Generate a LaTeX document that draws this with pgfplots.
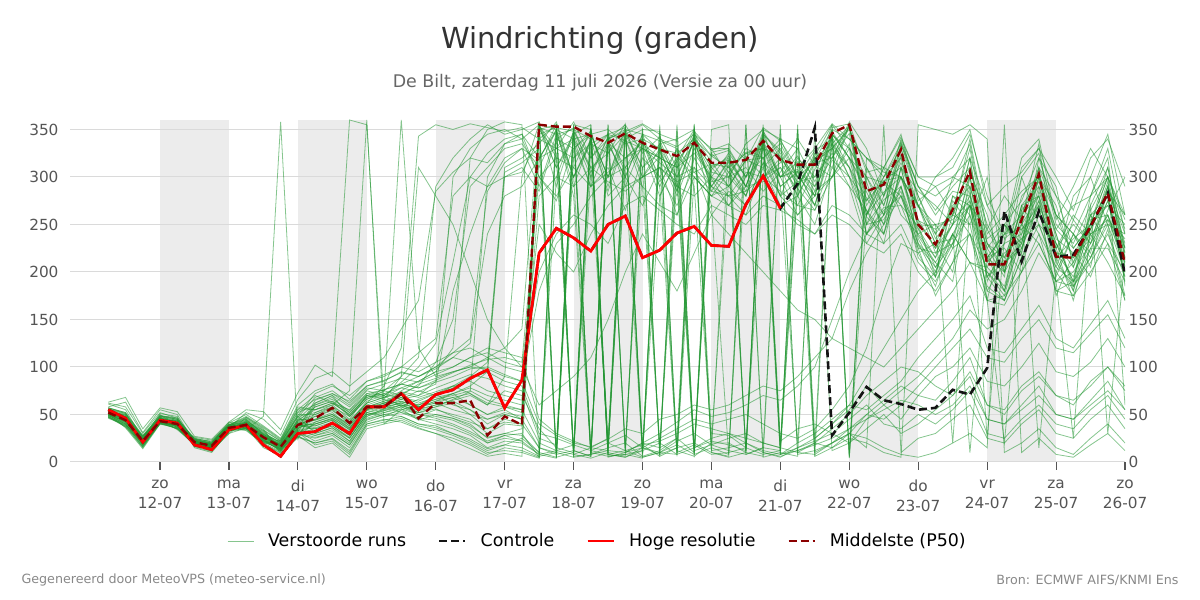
\documentclass[border=0pt]{standalone}
\usepackage{fontspec}
\setmainfont{DejaVu Sans}
\usepackage{pgfplots}
\usepackage{pgfplotstable}
\pgfplotsset{compat=1.18}

\definecolor{ensgreen}{RGB}{34,150,50}
\definecolor{p50red}{RGB}{139,0,0}
\definecolor{ctrlblack}{RGB}{20,20,20}
\definecolor{bandcol}{RGB}{236,236,236}
\definecolor{gridcol}{RGB}{218,218,218}
\definecolor{tickcol}{RGB}{85,85,85}
\definecolor{titlecol}{RGB}{51,51,51}
\definecolor{subcol}{RGB}{102,102,102}
\definecolor{footcol}{RGB}{136,136,136}

% Ensemble members: one row per member, time steps (6-hourly) as columns.
% Row "d" holds the time in days after 11-07 00:00.
\pgfplotstableread{
id  t01 t02 t03 t04 t05 t06 t07 t08 t09 t10 t11 t12 t13 t14 t15 t16 t17 t18 t19 t20 t21 t22 t23 t24 t25 t26 t27 t28 t29 t30 t31 t32 t33 t34 t35 t36 t37 t38 t39 t40 t41 t42 t43 t44 t45 t46 t47 t48 t49 t50 t51 t52 t53 t54 t55 t56 t57 t58 t59 t60
d   0.25 0.5 0.75 1 1.25 1.5 1.75 2 2.25 2.5 2.75 3 3.25 3.5 3.75 4 4.25 4.5 4.75 5 5.25 5.5 5.75 6 6.25 6.5 6.75 7 7.25 7.5 7.75 8 8.25 8.5 8.75 9 9.25 9.5 9.75 10 10.25 10.5 10.75 11 11.25 11.5 11.75 12 12.25 12.5 12.75 13 13.25 13.5 13.75 14 14.25 14.5 14.75 15
m1  54 46 20 45 42 19 15 35 40 24 14 35 45 52 38 60 58 66 70 85 300 330 345 350 340 355 320 8 345 300 352 15 330 285 340 310 320 290 345 325 280 318 350 10 300 260 335 280 240 300 290 225 250 220 320 290 205 250 300 260
m2  50 42 25 47 38 23 19 38 36 28 18 42 38 44 30 55 62 70 58 64 72 80 95 310 320 335 358 300 12 340 290 335 320 6 300 280 290 322 300 315 340 312 300 355 250 295 280 245 205 230 305 260 200 270 280 195 240 215 265 300
m3  57 52 18 41 44 17 13 33 44 30 12 31 62 70 48 66 75 90 110 290 320 340 355 345 350 358 10 330 348 290 345 310 18 315 342 270 8 325 330 280 320 300 355 330 295 240 310 285 270 250 320 190 230 300 250 230 190 280 320 185
m4  48 38 27 50 36 25 21 40 35 22 20 48 30 36 25 50 55 60 52 58 66 74 300 335 345 320 348 290 340 20 310 330 280 318 8 312 318 12 300 310 270 308 340 300 275 310 260 240 215 280 260 180 210 230 310 260 240 205 290 230
m5  62 58 30 52 46 16 11 31 47 35 9 28 52 60 45 70 68 78 85 95 120 320 350 358 355 5 300 348 320 345 12 338 300 328 290 20 300 335 350 290 20 325 320 358 330 280 340 300 290 260 340 245 280 255 335 210 280 300 250 240
m6  47 40 16 42 35 22 18 37 33 19 23 55 70 62 55 75 70 58 66 72 60 55 40 50 45 355 310 340 290 335 300 345 295 320 350 285 312 280 338 300 316 285 348 5 260 310 300 250 195 275 250 300 200 270 240 205 255 230 275 195
m7  55 48 23 44 41 20 16 36 41 27 17 38 48 55 40 62 80 120 343 355 350 356 352 348 352 340 355 300 335 325 356 10 280 318 338 305 300 310 285 305 330 295 335 300 240 280 315 270 230 200 300 170 250 225 290 240 180 260 230 200
m8  51 36 14 40 39 24 22 41 50 38 25 60 75 82 66 85 92 100 115 130 280 300 325 340 345 300 280 310 350 280 300 270 310 260 320 290 280 260 310 270 280 250 310 290 230 260 285 220 185 240 210 200 180 235 270 175 220 195 245 170
m9  53 45 21 46 43 18 14 34 38 25 15 36 35 40 28 52 48 56 44 50 46 40 25 30 35 350 325 12 305 342 310 340 290 8 336 300 325 300 342 18 290 320 330 350 310 270 334 290 260 285 280 225 195 300 325 250 230 270 310 225
m10 58 63 31 55 50 21 12 30 36 15 7 26 42 48 35 58 64 72 80 105 150 290 310 330 335 310 350 280 8 335 300 345 328 285 342 316 290 318 320 340 300 6 346 320 284 250 300 270 220 250 320 215 240 245 270 225 260 240 295 215
m11 49 41 24 43 37 26 23 39 37 21 19 44 55 62 50 68 72 66 75 70 80 72 60 90 300 356 290 348 310 15 352 300 330 300 12 308 322 290 336 300 308 280 344 330 300 294 270 248 250 255 275 215 240 260 310 280 225 250 270 250
m12 52 47 19 49 45 15 10 32 42 32 13 33 28 34 22 48 56 63 60 70 78 88 95 300 310 285 340 330 345 300 340 290 15 322 300 280 305 280 330 290 305 270 335 310 265 230 310 235 200 240 210 205 185 250 230 190 210 260 280 190
m13 56 44 28 42 40 22 17 36 52 45 28 66 88 95 80 95 110 140 170 285 305 320 315 335 340 300 275 335 290 310 265 320 300 270 310 260 285 270 315 300 260 280 300 335 240 268 270 225 175 210 275 195 170 215 260 225 170 240 210 175
m14 46 39 22 45 34 19 20 42 39 24 11 30 40 45 30 55 60 52 48 55 50 45 30 40 38 358 5 320 345 300 348 310 326 290 340 322 328 300 345 328 290 322 355 4 320 300 336 290 280 295 335 240 260 285 300 245 270 280 330 240
m15 53 50 17 41 41 20 15 35 34 48 358 24 60 68 52 72 70 82 90 100 115 130 285 315 330 318 355 10 330 345 305 8 338 300 345 290 316 290 340 318 280 315 320 354 260 300 330 252 225 265 240 205 250 230 300 270 210 245 285 260
m16 50 43 23 44 39 21 18 37 40 26 16 40 33 38 26 50 52 58 50 48 44 36 20 28 22 352 310 345 300 342 15 310 335 295 5 326 330 10 345 300 322 290 350 340 320 305 300 268 300 310 345 280 240 320 340 255 290 330 300 255
m17 54 49 26 48 47 23 16 38 45 29 21 50 50 58 42 64 70 84 100 125 210 300 290 320 330 290 345 300 338 285 340 300 322 280 330 298 270 300 320 280 295 300 325 290 265 240 310 230 210 190 285 195 220 235 250 205 190 225 260 210
m18 48 37 20 40 36 18 13 33 37 23 12 34 65 72 60 78 75 70 82 88 95 100 110 120 140 354 330 358 320 340 355 325 342 310 348 328 335 318 352 338 310 330 356 340 320 310 342 300 300 320 350 270 290 305 330 300 265 320 340 290
m19 61 55 24 51 48 17 12 30 43 33 15 45 44 50 36 58 62 68 64 72 80 90 105 305 315 330 5 352 305 336 320 338 12 300 338 290 318 290 342 14 314 280 348 320 288 260 330 280 235 260 310 250 215 265 290 225 250 230 290 205
m20 52 45 21 43 41 22 18 36 39 27 17 39 58 64 48 70 66 60 58 62 55 50 45 52 48 320 350 300 340 10 320 336 290 330 305 314 310 285 335 290 306 270 342 310 278 250 322 246 215 250 270 210 230 240 300 260 215 240 255 235
m21 50 42 18 42 38 20 17 37 36 21 14 29 25 30 18 45 50 48 40 38 30 22 12 18 25 10 5 355 8 15 20 6 12 25 355 30 28 15 355 22 35 40 30 20 45 60 75 90 110 130 160 140 150 180 220 190 200 230 260 215
m22 57 51 27 47 44 24 19 39 48 37 24 58 55 60 75 360 40 55 60 66 72 60 50 58 55 20 12 8 15 25 350 18 22 30 40 35 30 25 20 15 350 25 40 60 90 120 150 180 200 260 250 170 20 220 300 240 185 270 30 215
m23 53 44 23 44 40 19 16 34 40 26 18 41 36 42 30 52 58 62 55 60 65 70 60 75 70 35 15 10 355 20 12 5 10 22 30 18 12 8 15 350 10 20 35 50 70 85 100 95 80 70 95 60 50 75 90 70 65 80 100 75
m24 47 38 15 41 35 21 19 38 35 19 10 27 20 25 12 40 45 42 35 30 25 18 8 15 12 5 355 8 4 10 6 352 8 15 20 10 6 355 10 5 15 22 30 45 60 40 35 50 40 55 75 30 25 45 60 40 35 55 70 45
m25 55 48 25 46 42 20 14 35 42 29 20 47 68 75 62 80 85 95 90 98 110 105 95 85 80 30 25 18 12 8 5 15 25 35 45 40 45 50 40 30 25 35 55 80 120 180 230 220 230 235 300 220 180 265 15 200 240 220 290 240
m26 51 43 22 43 39 23 20 40 38 23 15 35 32 38 25 50 54 60 52 56 48 42 35 45 40 15 10 5 350 8 12 18 6 350 15 22 18 12 350 8 20 30 45 60 55 70 85 110 130 150 175 120 115 140 165 130 120 145 170 130
m27 63 68 35 57 53 27 24 42 55 53 34 73 102 90 360 355 60 75 85 95 100 110 120 115 110 45 30 22 15 12 10 20 30 42 55 48 52 60 70 65 80 100 150 200 240 260 300 240 250 225 290 230 200 230 310 190 25 255 260 200
m28 49 40 19 42 38 18 15 34 36 22 13 32 22 28 15 42 48 52 45 40 35 28 15 22 20 8 4 352 10 6 8 12 355 10 18 8 10 15 8 12 355 6 15 25 20 10 5 355 350 345 355 340 10 20 35 15 8 25 40 20
m29 54 46 21 45 43 21 17 36 41 28 16 43 50 56 44 62 68 74 70 78 85 92 88 80 75 25 18 350 12 20 28 15 10 8 356 12 15 20 10 6 12 18 25 35 50 65 80 70 65 85 110 60 55 80 95 70 60 85 100 80
m30 52 44 24 44 40 22 18 37 39 25 19 38 40 46 34 56 60 64 58 62 68 60 50 55 45 15 8 12 6 355 10 20 15 25 10 350 355 8 15 12 350 10 20 30 15 355 10 25 30 45 60 25 20 40 55 30 25 45 60 35
m31 50 42 20 41 37 19 16 35 37 23 12 31 18 22 8 38 42 46 38 34 28 20 10 12 10 4 350 6 8 12 355 5 10 18 8 15 8 355 5 10 6 350 12 20 35 50 30 40 55 70 90 45 40 60 80 50 45 65 85 55
m32 56 50 26 48 45 25 21 39 46 34 22 52 60 66 54 72 76 82 78 84 90 98 100 92 85 40 28 20 16 24 35 30 45 50 60 55 60 70 80 75 90 110 130 180 220 250 280 230 195 280 270 215 225 200 285 230 190 265 300 60
m33 53 45 22 43 41 20 16 36 40 26 17 40 45 50 40 60 66 90 310 280 250 200 150 120 100 60 75 90 110 150 200 240 210 180 220 260 240 220 200 180 160 150 130 120 110 100 120 140 160 180 210 170 175 200 230 190 185 210 240 195
m34 48 39 17 40 36 17 14 33 35 20 11 28 15 20 5 35 40 44 36 30 22 14 6 9 6 355 5 10 352 6 8 4 350 12 6 20 20 10 6 355 8 12 20 30 25 15 8 5 10 20 30 15 355 10 25 8 5 18 30 12
m35 55 47 24 46 43 23 19 38 43 30 21 49 72 80 70 85 90 100 95 105 115 120 110 100 95 200 240 260 250 230 270 280 265 250 240 270 260 250 270 265 255 240 260 250 230 220 240 200 180 210 240 170 165 200 240 180 175 200 230 170
m36 51 43 21 44 39 21 17 36 38 24 15 37 38 44 32 54 58 62 56 60 64 55 45 50 45 350 8 345 355 15 340 350 348 10 345 330 300 330 320 8 290 325 310 355 260 296 300 270 250 20 270 245 210 280 300 215 235 250 310 220
m37 54 47 23 45 42 22 18 37 41 28 18 42 48 54 42 62 68 72 68 74 80 85 75 70 65 280 300 290 310 295 285 300 310 290 280 300 290 270 315 280 260 285 300 330 240 265 280 225 220 230 260 200 175 240 275 210 185 215 255 210
m38 49 41 19 42 38 19 15 34 36 21 14 33 28 32 20 46 52 56 50 46 40 32 22 28 30 5 340 352 10 345 352 8 335 340 350 12 335 12 350 340 330 18 352 356 305 310 345 275 290 300 320 270 235 310 330 280 255 300 345 260
m39 57 52 28 49 46 24 20 39 47 36 23 56 55 62 50 68 74 360 120 90 95 100 98 90 85 180 230 250 280 300 310 290 270 260 300 280 270 260 280 270 250 240 270 260 240 230 250 210 190 225 240 185 170 215 250 200 175 225 225 190
m40 52 44 22 43 40 20 16 35 39 25 16 36 42 48 36 56 62 66 60 66 70 75 65 60 55 355 350 340 345 350 335 340 330 325 340 310 290 318 310 330 300 280 345 320 300 270 324 270 230 270 290 25 235 250 280 230 205 260 270 225
m41 50 43 21 44 39 21 17 36 38 26 17 39 35 40 28 52 56 60 54 58 62 50 35 42 40 350 355 12 6 340 348 356 345 338 8 330 330 300 348 320 300 328 340 6 310 280 338 290 265 290 310 235 250 275 320 260 240 280 300 245
m42 53 46 24 45 41 22 18 38 42 29 19 45 62 70 58 76 82 88 84 92 100 110 115 105 100 250 220 200 240 270 290 300 310 295 305 285 280 285 300 285 270 265 300 320 250 255 290 215 195 230 270 180 170 225 270 180 190 215 250 175
m43 47 37 16 41 35 18 14 33 34 19 9 26 20 24 10 40 44 48 40 36 30 24 14 18 15 6 10 355 350 8 5 12 20 8 15 25 30 20 12 8 15 25 40 55 80 60 45 70 90 100 120 85 80 100 125 95 90 105 130 100
m44 55 49 25 47 44 23 19 38 44 31 20 48 52 58 48 66 72 78 74 82 180 240 290 300 305 340 330 320 335 345 338 330 320 310 325 300 280 305 300 320 295 270 330 310 250 276 290 238 210 240 10 215 180 245 260 220 195 245 280 200
m45 52 45 22 43 40 20 16 36 40 27 17 40 44 50 38 58 64 68 62 68 72 78 70 65 60 345 352 348 5 340 350 345 338 330 12 325 305 326 330 322 290 320 335 354 275 296 310 270 240 265 330 230 205 270 295 245 225 250 300 215
m46 51 44 20 42 39 21 17 35 37 23 14 34 30 36 22 48 54 58 52 50 46 38 26 30 28 10 350 5 8 355 12 350 6 15 352 10 5 10 352 8 12 20 15 30 50 45 60 80 100 120 140 110 105 130 150 120 115 135 155 120
m47 54 47 23 46 42 22 18 37 42 28 18 43 58 64 52 70 76 82 78 86 94 102 108 110 105 300 320 310 290 305 320 330 315 300 310 290 270 290 295 310 288 265 318 300 258 240 290 228 205 240 270 195 210 225 275 215 180 240 250 200
m48 49 40 18 42 37 19 15 34 36 22 13 31 26 30 18 44 50 54 46 44 38 30 20 25 22 8 12 18 350 5 10 15 8 355 12 18 25 30 20 15 10 8 20 35 45 55 65 60 50 60 80 45 40 55 70 50 45 60 75 55
m49 56 51 27 48 45 24 20 39 45 33 22 53 66 72 64 80 86 94 90 100 110 125 240 280 290 320 330 340 310 325 345 330 320 310 335 295 300 280 332 300 306 290 320 346 260 284 300 255 225 250 280 215 200 260 280 220 215 235 275 220
m50 53 45 22 44 41 21 17 36 40 26 16 38 40 46 34 55 60 64 58 64 68 72 62 58 52 352 345 350 340 8 345 355 340 332 345 322 310 325 320 335 300 316 330 352 270 300 320 254 245 260 300 230 215 250 305 235 220 245 290 225
}\ensraw
\pgfplotstabletranspose[colnames from=id]\ens\ensraw

% High-resolution run (until day 10)
\pgfplotstableread{
d v
0.25 55
0.5 46
0.75 21
1 44
1.25 41
1.5 18
1.75 13
2 34
2.25 39
2.5 18
2.75 6
3 30
3.25 32
3.5 41
3.75 30
4 58
4.25 58
4.5 72
4.75 55
5 71
5.25 76
5.5 88
5.75 97
6 57
6.25 86
6.5 220
6.75 246
7 236
7.25 222
7.5 250
7.75 259
8 215
8.25 223
8.5 241
8.75 248
9 228
9.25 227
9.5 271
9.75 301
10 267
}\hres

% Control run
\pgfplotstableread{
d v
0.25 55
0.5 46
0.75 21
1 44
1.25 41
1.5 18
1.75 13
2 34
2.25 39
2.5 18
2.75 6
3 30
3.25 32
3.5 41
3.75 30
4 58
4.25 58
4.5 72
4.75 55
5 71
5.25 76
5.5 88
5.75 97
6 57
6.25 86
6.5 220
6.75 246
7 236
7.25 222
7.5 250
7.75 259
8 215
8.25 223
8.5 241
8.75 248
9 228
9.25 227
9.5 271
9.75 301
10 267
10.25 293
10.5 352
10.75 28
11 52
11.25 79
11.5 65
11.75 61
12 55
12.25 57
12.5 76
12.75 71
13 99
13.25 264
13.5 211
13.75 264
14 216
14.25 218
14.5 248
14.75 283
15 197
}\ctrl

% Ensemble median
\pgfplotstableread{
d v
0.25 52
0.5 44
0.75 22
1 43
1.25 40
1.5 21
1.75 17
2 36
2.25 39
2.5 26
2.75 16
3 39
3.25 46
3.5 57
3.75 41
4 58
4.25 58
4.5 72
4.75 46
5 62
5.25 62
5.5 65
5.75 28
6 48
6.25 39
6.5 355
6.75 353
7 353
7.25 343
7.5 336
7.75 346
8 336
8.25 329
8.5 322
8.75 336
9 315
9.25 315
9.5 318
9.75 338
10 318
10.25 313
10.5 313
10.75 346
11 355
11.25 285
11.5 292
11.75 329
12 250
12.25 229
12.5 266
12.75 306
13 208
13.25 208
13.5 255
13.75 303
14 216
14.25 215
14.5 248
14.75 283
15 209
}\pfifty

\begin{document}
\begin{tikzpicture}
\node[font=\fontsize{29bp}{34bp}\selectfont, text=titlecol] at (600bp,559bp) {Windrichting (graden)};
\node[font=\fontsize{17.4bp}{21bp}\selectfont, text=subcol] at (600bp,517bp) {De Bilt, zaterdag 11 juli 2026 (Versie za 00 uur)};
\node[anchor=west, font=\fontsize{12.7bp}{15bp}\selectfont, text=footcol] at (18bp,20bp) {Gegenereerd door MeteoVPS (meteo-service.nl)};
\node[anchor=east, font=\fontsize{12.7bp}{15bp}\selectfont, text=footcol] at (1182bp,20bp) {Bron: ECMWF AIFS/KNMI Ens};

\pgfplotsset{
  ens/.style={ensgreen, opacity=0.55, line width=0.8bp},
  basewind/.style={
    at={(70bp,138bp)}, anchor=south west,
    scale only axis, width=1055bp, height=342bp,
    xmin=-0.306, xmax=15, ymin=0, ymax=360,
    axis line style={draw=none},
    ytick={0,50,...,350},
    ytick style={draw=none},
    /pgf/number format/assume math mode=true,
    yticklabel style={font=\fontsize{15.3bp}{18bp}\selectfont, text=tickcol},
  },
}

\begin{axis}[
  basewind,
  set layers,
  ymajorgrids,
  grid style={gridcol, line width=1bp},
  ytick pos=left,
  xtick={1,...,15},
  xticklabels={{zo\\12-07},{ma\\13-07},{di\\14-07},{wo\\15-07},{do\\16-07},{vr\\17-07},{za\\18-07},{zo\\19-07},{ma\\20-07},{di\\21-07},{wo\\22-07},{do\\23-07},{vr\\24-07},{za\\25-07},{zo\\26-07}},
  xtick pos=left,
  tick align=outside,
  major tick length=8bp,
  xtick style={draw=tickcol, line width=1.1bp},
  xticklabel style={align=center, yshift=-6bp, font=\fontsize{15.3bp}{20.5bp}\selectfont, text=tickcol},
  legend columns=4,
  legend style={draw=none, fill=none, at={(0.5,-0.231)}, anchor=center,
    font=\fontsize{17.4bp}{21bp}\selectfont,
    /tikz/every even column/.append style={column sep=30bp}},
  legend image code/.code={\draw[#1] (0bp,0bp) -- (26bp,0bp); \path (0bp,0bp) (38bp,0bp);},
]
\begin{pgfonlayer}{axis background}
  \fill[bandcol] (axis cs:1,0) rectangle (axis cs:2,360);
  \fill[bandcol] (axis cs:3,0) rectangle (axis cs:4,360);
  \fill[bandcol] (axis cs:5,0) rectangle (axis cs:6,360);
  \fill[bandcol] (axis cs:7,0) rectangle (axis cs:8,360);
  \fill[bandcol] (axis cs:9,0) rectangle (axis cs:10,360);
  \fill[bandcol] (axis cs:11,0) rectangle (axis cs:12,360);
  \fill[bandcol] (axis cs:13,0) rectangle (axis cs:14,360);
\end{pgfonlayer}

\pgfplotsinvokeforeach{1,...,50}{
  \addplot[ens, forget plot] table[x=d, y=m#1] {\ens};
}
\addplot[ctrlblack, line width=2.6bp, dash pattern=on 8bp off 4bp, forget plot] table[x=d, y=v] {\ctrl};
\addplot[red, line width=2.8bp, forget plot] table[x=d, y=v] {\hres};
\addplot[p50red, line width=2.4bp, dash pattern=on 8bp off 4bp, forget plot] table[x=d, y=v] {\pfifty};

\addlegendimage{ens}
\addlegendentry{Verstoorde runs}
\addlegendimage{ctrlblack, line width=2.6bp, dash pattern=on 8bp off 4bp}
\addlegendentry{Controle}
\addlegendimage{red, line width=2.8bp}
\addlegendentry{Hoge resolutie}
\addlegendimage{p50red, line width=2.4bp, dash pattern=on 8bp off 4bp}
\addlegendentry{Middelste (P50)}
\end{axis}

% Duplicate axis carrying the right-hand tick labels
\begin{axis}[
  basewind,
  xtick=\empty,
  ytick pos=right,
  yticklabel pos=right,
]
\addplot[draw=none, forget plot] table[x=d, y=v] {\pfifty};
\end{axis}

% Fix the page to the full canvas
\pgfresetboundingbox
\path[use as bounding box] (0,0) rectangle (1200bp,600bp);
\end{tikzpicture}
\end{document}
